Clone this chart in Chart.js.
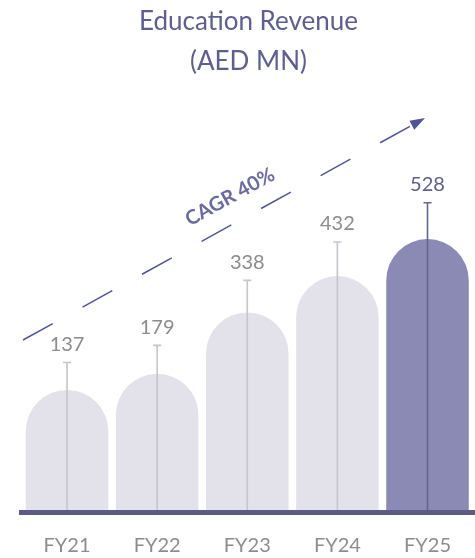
<!DOCTYPE html>
<html lang="en">
<head>
  <meta charset="UTF-8">
  <title>Education Revenue</title>
  <script src="https://cdn.jsdelivr.net/npm/chart.js"></script>
  <style>
    html, body { margin: 0; padding: 0; background: #fff; }
    #wrap { width: 475px; height: 558px; position: relative; }
  </style>
</head>
<body>
<div id="wrap"><canvas id="grafica"></canvas></div>
<script>
const categories = ['FY21', 'FY22', 'FY23', 'FY24', 'FY25'];
const revenue = [137, 179, 338, 432, 528];
const cagrText = 'CAGR 40%';

const light = '#e3e2eb';
const dark = '#8b8ab4';
const last = revenue.length - 1;
const yMin = -174;

// whiskers + value labels + baseline + CAGR arrow
const extras = {
  id: 'extras',
  afterDatasetsDraw(chart) {
    const ctx = chart.ctx;
    const area = chart.chartArea;
    const meta = chart.getDatasetMeta(0);
    ctx.save();
    meta.data.forEach((bar, i) => {
      // whisker height grows a little faster than the bar
      const top = bar.base - (91.5 + 0.4086 * revenue[i]);
      ctx.strokeStyle = i === last ? '#66658f' : '#c6c5cb';
      ctx.lineWidth = 1.6;
      ctx.beginPath();
      ctx.moveTo(bar.x, bar.base);
      ctx.lineTo(bar.x, top);
      ctx.moveTo(bar.x - 4, top);
      ctx.lineTo(bar.x + 4, top);
      ctx.stroke();
      ctx.fillStyle = i === last ? '#5d5d92' : '#8c8c8c';
      ctx.font = '20px Lato';
      ctx.textAlign = 'center';
      ctx.textBaseline = 'middle';
      ctx.fillText(String(revenue[i]), bar.x, top - 18);
    });

    // baseline
    ctx.strokeStyle = '#5b5b86';
    ctx.lineWidth = 5;
    ctx.beginPath();
    ctx.moveTo(area.left - 3, area.bottom + 2.5);
    ctx.lineTo(chart.width, area.bottom + 2.5);
    ctx.stroke();

    // CAGR arrow
    const x0 = area.left + 1, y0 = area.top + 248;
    const x1 = area.left + 403, y1 = area.top + 26;
    const ang = Math.atan2(y1 - y0, x1 - x0);
    const head = 15;
    ctx.strokeStyle = '#4f5596';
    ctx.fillStyle = '#4f5596';
    ctx.lineWidth = 1.5;
    ctx.setLineDash([34, 34]);
    ctx.beginPath();
    ctx.moveTo(x0, y0);
    ctx.lineTo(x1 - head * Math.cos(ang), y1 - head * Math.sin(ang));
    ctx.stroke();
    ctx.setLineDash([]);
    ctx.beginPath();
    ctx.moveTo(x1, y1);
    ctx.lineTo(x1 - head * Math.cos(ang) + 5 * Math.sin(ang), y1 - head * Math.sin(ang) - 5 * Math.cos(ang));
    ctx.lineTo(x1 - head * Math.cos(ang) - 5 * Math.sin(ang), y1 - head * Math.sin(ang) + 5 * Math.cos(ang));
    ctx.closePath();
    ctx.fill();

    ctx.translate(x0 + 207, y0 - 143);
    ctx.rotate(ang);
    ctx.fillStyle = '#6a6aa1';
    ctx.font = 'bold 20px Lato';
    ctx.textAlign = 'center';
    ctx.textBaseline = 'middle';
    ctx.fillText(cagrText, 0, 0);
    ctx.restore();
  }
};

new Chart(document.getElementById('grafica'), {
  type: 'bar',
  data: {
    labels: categories,
    datasets: [{
      data: revenue,
      base: yMin,
      backgroundColor: revenue.map((v, i) => i === last ? dark : light),
      borderRadius: { topLeft: 100, topRight: 100, bottomLeft: 0, bottomRight: 0 },
      borderSkipped: 'start',
      barPercentage: 0.916,
      categoryPercentage: 1
    }]
  },
  options: {
    responsive: true,
    maintainAspectRatio: false,
    animation: false,
    layout: { padding: { left: 22, right: 0, top: 0, bottom: 2 } },
    plugins: {
      legend: { display: false },
      tooltip: { enabled: false },
      title: {
        display: true,
        text: ['Education Revenue', '(AED MN)'],
        color: '#5e5e8f',
        font: { family: 'Lato', size: 26, weight: 'normal', lineHeight: '40px' },
        padding: { top: 2, bottom: 10 }
      }
    },
    scales: {
      x: {
        grid: { display: false, drawTicks: false },
        border: { display: false },
        ticks: { color: '#8d8d8d', font: { family: 'Lato', size: 20 }, padding: 24 },
        afterFit(scale) { scale.height = 46; }
      },
      y: { display: false, min: yMin, max: 909 }
    }
  },
  plugins: [extras]
});
</script>
</body>
</html>
